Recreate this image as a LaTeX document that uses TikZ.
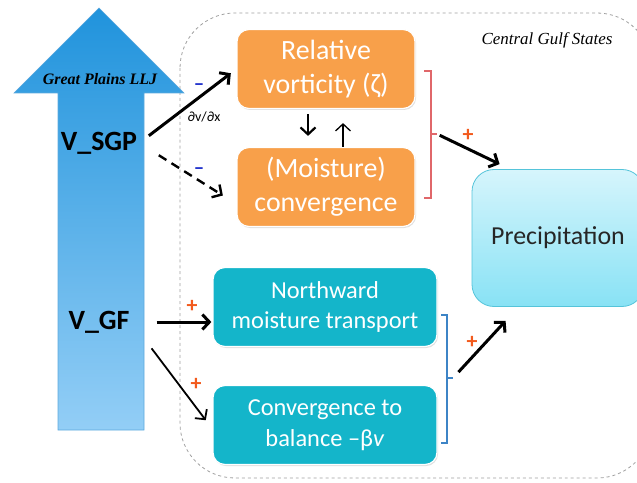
\documentclass[tikz,border=0pt]{standalone}
\usepackage{fontspec}
\setmainfont{Carlito}
\newfontfamily\timesfont{Liberation Serif}
\usetikzlibrary{arrows.meta, shapes, shadows, positioning}

\definecolor{lljtop}{HTML}{2093DC}
\definecolor{lljbot}{HTML}{93CEF6}
\definecolor{lljline}{HTML}{5DA9DD}
\definecolor{dynbox}{HTML}{F8A04A}
\definecolor{thermbox}{HTML}{14B5CA}
\definecolor{preciptop}{HTML}{D6F5FC}
\definecolor{precipbot}{HTML}{88E2F5}
\definecolor{precipline}{HTML}{55C4DA}
\definecolor{redbrace}{HTML}{E0676A}
\definecolor{bluebrace}{HTML}{3D84C6}
\definecolor{minuscol}{HTML}{2233CC}
\definecolor{pluscol}{HTML}{F25A1D}

\tikzset{
  box/.style={rounded corners=12bp, draw=white, line width=1.2bp, text=white,
    align=center, inner sep=0pt, font=\fontsize{28}{34}\selectfont,
    drop shadow={opacity=0.25, shadow xshift=1bp, shadow yshift=-1.5bp}},
  dynamic/.style={box, fill=dynbox, minimum width=178bp, minimum height=79bp},
  thermo/.style={box, fill=thermbox, minimum width=224bp, minimum height=79bp,
    font=\fontsize{24.5}{31}\selectfont},
  wind/.style={inner sep=2bp, font=\fontsize{28}{30}\selectfont\bfseries},
  arr/.style={->, line width=3bp},
  thin arr/.style={->, line width=1.8bp},
  plus/.style={text=pluscol, font=\fontsize{22}{22}\selectfont\bfseries},
  minus/.style={text=minuscol, font=\fontsize{21}{21}\selectfont\bfseries},
  brace/.style={line width=1.2bp},
}

\begin{document}
\begin{tikzpicture}[x=1bp, y=-1bp, >={Straight Barb[length=7bp,width=15bp]},
    node distance=118bp, on grid]
  \useasboundingbox (0,0) rectangle (637,483);

  % Central Gulf States region
  \draw[dashed, gray!75, line width=0.8bp, rounded corners=55bp] (180,13) rectangle (652,478);
  \node[font=\timesfont\itshape\fontsize{17}{17}\selectfont] (cgs) at (547,40) {Central Gulf States};

  % low-level jet
  \shade[top color=lljtop, bottom color=lljbot, draw=lljline, line width=0.6bp]
    (58,430) -- (58,93) -- (14,93) -- (99,8) -- (184,93) -- (144,93) -- (144,430) -- cycle;
  \node[font=\timesfont\fontsize{16}{16}\selectfont\bfseries\itshape] (llj) at (100,79) {Great Plains LLJ};
  \node[wind] (sgp) at (99,143) {V\_SGP};
  \node[wind] (gf)  at (99,322) {V\_GF};

  % boxes
  \node[dynamic] (vort) at (326,69) {Relative\\vorticity (ζ)};
  \node[dynamic] (conv) [below=of vort] {(Moisture)\\convergence};
  \node[thermo] (north) at (325,307) {Northward\\moisture transport};
  \node[thermo] (bal) [below=of north] {Convergence to\\balance –β\textit{v}};
  \node[rounded corners=22bp, draw=precipline, line width=0.8bp,
        top color=preciptop, bottom color=precipbot,
        minimum width=172bp, minimum height=137bp, text=black!85,
        font=\fontsize{26}{30}\selectfont] (precip) at (558,238) {Precipitation};

  % brackets
  \draw[brace, redbrace] (424,71) -| (431,198) -- (424,198);
  \draw[brace, redbrace] (431,134) -- (437,134) coordinate (dynout);
  \draw[brace, bluebrace] (441,315) -| (447,443) -- (441,443);
  \draw[brace, bluebrace] (447,378) -- (453,378) coordinate (thermout);

  % links
  \draw[arr, shorten <=12bp, shorten >=7bp] (sgp.east) -- (vort.west);
  \draw[arr, line width=2.4bp, dash pattern=on 9bp off 6bp, shorten <=23bp, shorten >=16bp]
    (sgp.east) -- ([yshift=-17bp]conv.west);
  \draw[->, line width=2.2bp, shorten <=5bp, shorten >=11bp]
    ([xshift=-18bp]vort.south) -- ([xshift=-18bp]conv.north);
  \draw[->, line width=1.3bp, shorten >=14bp]
    ([xshift=17bp]conv.north) -- ([xshift=17bp]vort.south);
  \draw[arr, shorten <=3bp] (dynout) -- ([xshift=28bp,yshift=5bp]precip.north west);
  \draw[arr, shorten <=25bp, shorten >=1bp] (gf.east) -- (gf.east -| north.west);
  \draw[thin arr, shorten <=33bp, shorten >=11bp] (gf.east) -- ([yshift=-4bp]bal.west);
  \draw[arr, shorten <=8bp] (thermout) -- ([xshift=34bp,yshift=-14bp]precip.south west);

  % signs
  \node[minus] (m1) at (199,87) {–};
  \node[minus] (m2) at (199,171) {–};
  \node[font=\fontsize{14}{14}\selectfont] (dvdx) at (204,117) {∂v/∂x};
  \node[plus] (p1) at (192,306) {+};
  \node[plus] (p2) at (196,384) {+};
  \node[plus] (p3) at (468,135) {+};
  \node[plus] (p4) at (472,342) {+};
\end{tikzpicture}
\end{document}
